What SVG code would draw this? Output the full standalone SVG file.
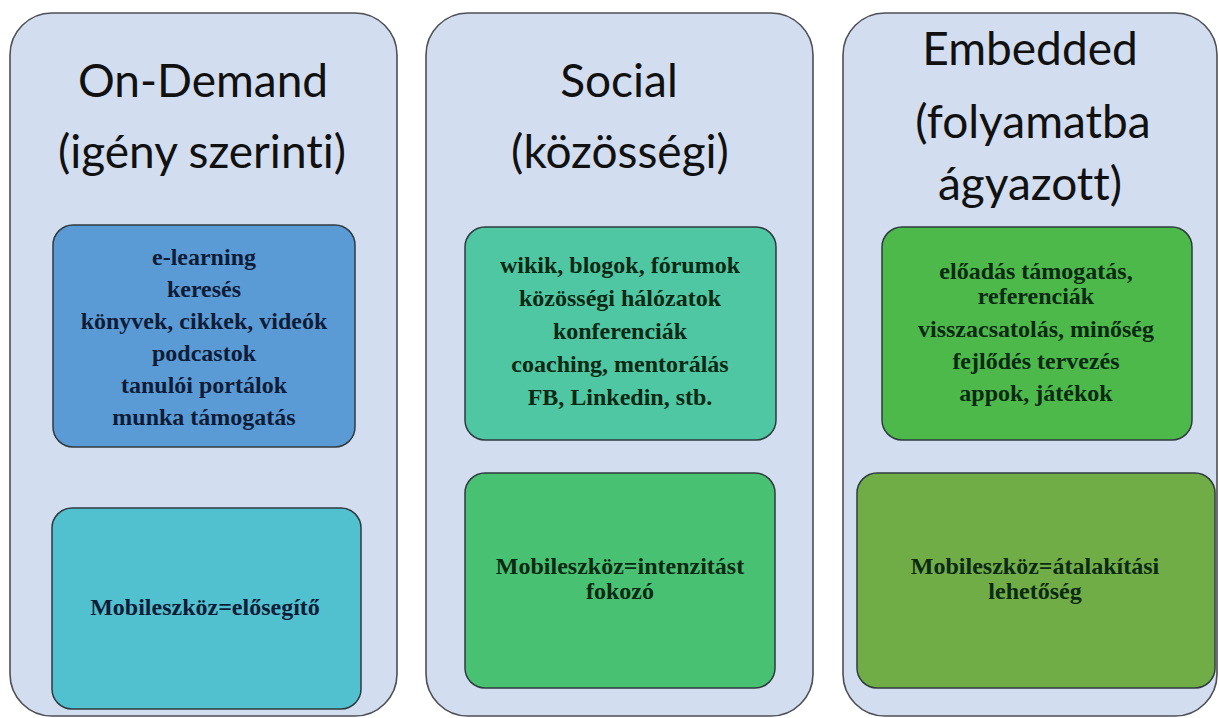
<svg xmlns="http://www.w3.org/2000/svg" width="1219" height="718" viewBox="0 0 1219 718">
<style>
.outer{fill:#d2ddef;stroke:#4d4f55;stroke-width:1.6}
.inner{stroke:#2f3a40;stroke-width:1.5}
.title{font-family:Lato,"Open Sans",sans-serif;font-size:46px;fill:#111;text-anchor:middle;font-variant-ligatures:none}
.item{font-family:"Liberation Serif","Times New Roman",serif;font-weight:bold;font-size:24px;text-anchor:middle}
.blue{fill:#0f1c38}
.green{fill:#0c2914}
</style>
<rect width="1219" height="718" fill="#ffffff"/>
<g id="col-ondemand">
  <rect class="outer" x="10" y="13" width="387" height="703" rx="42"/>
  <text class="title" x="203" y="97">On-Demand</text>
  <text class="title" x="202" y="168">(igény szerinti)</text>
</g>
<g id="col-social">
  <rect class="outer" x="426" y="13" width="387" height="703" rx="42"/>
  <text class="title" x="619" y="97">Social</text>
  <text class="title" x="620" y="168">(közösségi)</text>
</g>
<g id="col-embedded">
  <rect class="outer" x="843" y="13" width="374" height="703" rx="42"/>
  <text class="title" x="1030" y="65">Embedded</text>
  <text class="title" x="1033" y="138">(folyamatba</text>
  <text class="title" x="1030" y="200">ágyazott)</text>
</g>
<g id="box-ondemand-items">
  <rect class="inner" x="53" y="225" width="302" height="222" rx="20" fill="#5b9bd5"/>
  <text class="item blue" x="204" y="265">e-learning</text>
  <text class="item blue" x="204" y="297">keresés</text>
  <text class="item blue" x="204" y="329">könyvek, cikkek, videók</text>
  <text class="item blue" x="204" y="361">podcastok</text>
  <text class="item blue" x="204" y="393">tanulói portálok</text>
  <text class="item blue" x="204" y="425">munka támogatás</text>
</g>
<g id="box-ondemand-mobile">
  <rect class="inner" x="52" y="508" width="309" height="201" rx="20" fill="#52c1cf"/>
  <text class="item blue" x="205" y="615">Mobileszköz=elősegítő</text>
</g>
<g id="box-social-items">
  <rect class="inner" x="465" y="227" width="311" height="213" rx="20" fill="#4fc7a2"/>
  <text class="item green" x="620" y="273">wikik, blogok, fórumok</text>
  <text class="item green" x="620" y="306">közösségi hálózatok</text>
  <text class="item green" x="620" y="339">konferenciák</text>
  <text class="item green" x="620" y="372">coaching, mentorálás</text>
  <text class="item green" x="620" y="405">FB, Linkedin, stb.</text>
</g>
<g id="box-social-mobile">
  <rect class="inner" x="465" y="473" width="310" height="215" rx="20" fill="#49c172"/>
  <text class="item green" x="620" y="574">Mobileszköz=intenzitást</text>
  <text class="item green" x="620" y="599">fokozó</text>
</g>
<g id="box-embedded-items">
  <rect class="inner" x="882" y="227" width="310" height="213" rx="20" fill="#4db94b"/>
  <text class="item green" x="1036" y="279">előadás támogatás,</text>
  <text class="item green" x="1036" y="304">referenciák</text>
  <text class="item green" x="1036" y="337">visszacsatolás, minőség</text>
  <text class="item green" x="1036" y="369">fejlődés tervezés</text>
  <text class="item green" x="1036" y="401">appok, játékok</text>
</g>
<g id="box-embedded-mobile">
  <rect class="inner" x="857" y="473" width="358" height="215" rx="20" fill="#70ad47"/>
  <text class="item green" x="1035" y="574">Mobileszköz=átalakítási</text>
  <text class="item green" x="1035" y="599">lehetőség</text>
</g>
<g id="connectors"></g>
</svg>
